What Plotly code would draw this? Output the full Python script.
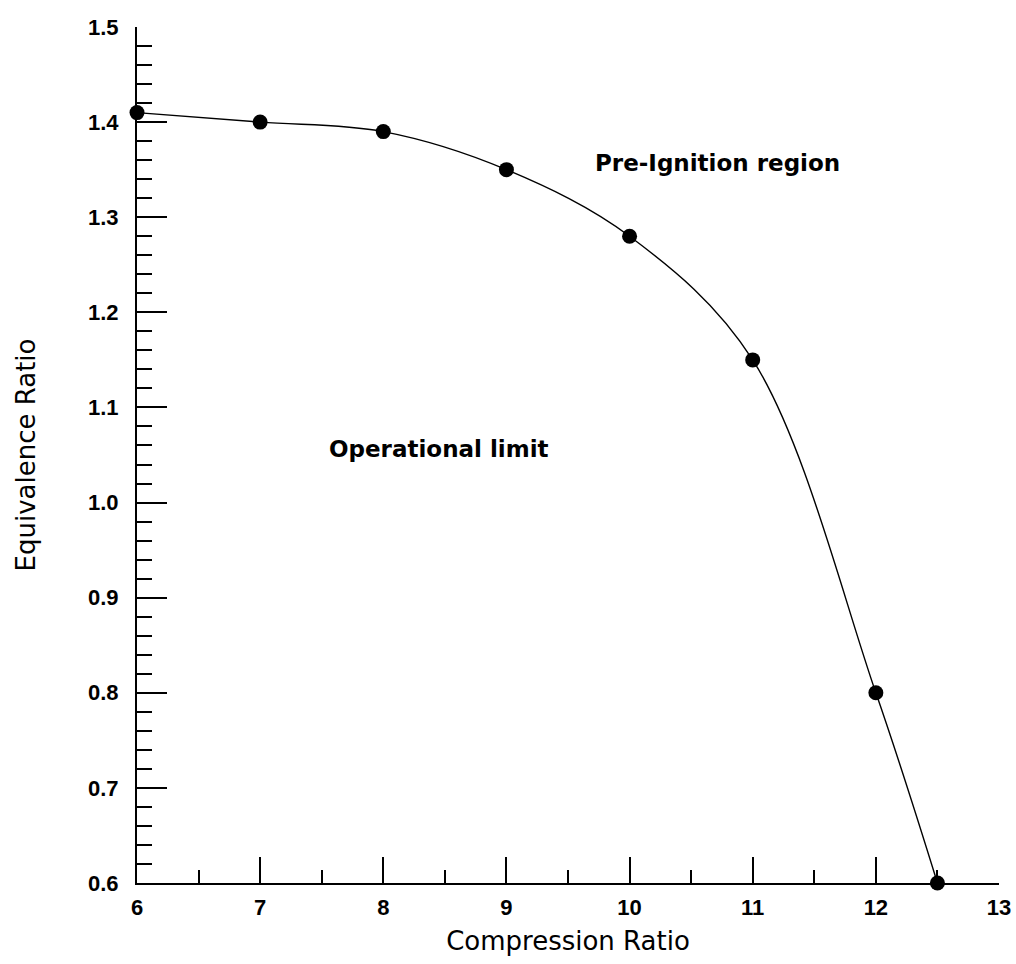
import plotly.graph_objects as go

compression_ratio = [6, 7, 8, 9, 10, 11, 12, 12.5]
equivalence_ratio = [1.41, 1.40, 1.39, 1.35, 1.28, 1.15, 0.80, 0.60]

x_ticks = [6, 7, 8, 9, 10, 11, 12, 13]
y_ticks = [0.6, 0.7, 0.8, 0.9, 1.0, 1.1, 1.2, 1.3, 1.4, 1.5]
y_tick_text = ["0.6", "0.7", "0.8", "0.9", "1.0", "1.1", "1.2", "1.3", "1.4", "1.5"]

tick_font = dict(family="Liberation Sans, Arial", size=22, color="black", weight="bold")
title_font = dict(family="DejaVu Sans", size=26, color="black")
ann_font = dict(family="DejaVu Sans", size=23, color="black", weight="bold")

fig = go.Figure()
fig.add_trace(go.Scatter(
    x=compression_ratio, y=equivalence_ratio,
    mode="lines+markers",
    line=dict(color="black", width=1.4, shape="spline", smoothing=1.0),
    marker=dict(color="black", size=15),
    cliponaxis=False,
    showlegend=False,
))

fig.add_annotation(x=10.71, y=1.357, text="Pre-Ignition region", showarrow=False,
                   font=ann_font, xanchor="center", yanchor="middle")
fig.add_annotation(x=8.455, y=1.056, text="Operational limit", showarrow=False,
                   font=ann_font, xanchor="center", yanchor="middle")

fig.update_layout(
    width=1016, height=964,
    margin=dict(l=137, r=17, t=27, b=81, autoexpand=False),
    plot_bgcolor="white", paper_bgcolor="white",
    xaxis=dict(
        range=[6, 13], tickvals=x_ticks, ticktext=[str(v) for v in x_ticks],
        ticks="inside", ticklen=26, tickwidth=2, tickcolor="black",
        minor=dict(dtick=0.5, tick0=6, ticks="inside", ticklen=13, tickwidth=2, tickcolor="black"),
        showline=True, linecolor="black", linewidth=2, mirror=False,
        showgrid=False, zeroline=False, tickfont=tick_font, ticklabelstandoff=4,
        automargin=False,
        title=dict(text="Compression Ratio", font=title_font, standoff=12),
    ),
    yaxis=dict(
        range=[0.6, 1.5], tickvals=y_ticks, ticktext=y_tick_text,
        ticks="inside", ticklen=30, tickwidth=2, tickcolor="black",
        minor=dict(dtick=0.02, tick0=0.6, ticks="inside", ticklen=15, tickwidth=2, tickcolor="black"),
        showline=True, linecolor="black", linewidth=2, mirror=False,
        showgrid=False, zeroline=False, tickfont=tick_font, ticklabelstandoff=12,
        automargin=False,
        title=dict(text="Equivalence Ratio", font=title_font, standoff=45),
    ),
)

fig.write_html("out.html")
